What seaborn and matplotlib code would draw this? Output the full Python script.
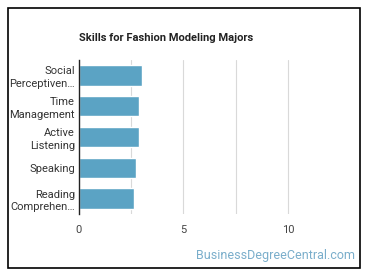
import matplotlib
matplotlib.use("Agg")
import matplotlib.pyplot as plt
import seaborn as sns
import pandas as pd
from matplotlib.patches import Rectangle

skills = ["Social\nPerceptiven…", "Time\nManagement", "Active\nListening", "Speaking", "Reading\nComprehen…"]
values = [3.0, 2.87, 2.87, 2.73, 2.63]
xticks = [0, 5, 10]

df = pd.DataFrame({"skill": skills, "value": values})

sns.set_style("white")
plt.rcParams['font.family'] = ['Roboto', 'DejaVu Sans']

fig = plt.figure(figsize=(3.7, 2.78), dpi=100)
ax = fig.add_axes([79/370, 1-214/278, (340-79)/370, (214-60)/278])

sns.barplot(data=df, x="value", y="skill", color="#5BA3C4", width=0.66, ax=ax, saturation=1)

ax.set_xlim(0, 12.5)
ax.set_xticks(xticks)
ax.set_xticklabels([str(t) for t in xticks])
ax.set_xticks([2.5, 7.5], minor=True)
for gx in [2.5, 5, 7.5, 10]:
    ax.axvline(gx, color="#d9d9d9", lw=0.8, zorder=0)
ax.tick_params(axis="x", which="both", length=0, labelsize=8, colors="#444444", pad=8)
ax.tick_params(axis="y", length=0, labelsize=8, colors="#333333", pad=3)
for lab in ax.get_yticklabels():
    lab.set_horizontalalignment("right")
    lab.set_linespacing(1.35)
ax.set_xlabel("")
ax.set_ylabel("")
for s in ["top", "right", "bottom"]:
    ax.spines[s].set_visible(False)
ax.spines["left"].set_color("#222222")
ax.spines["left"].set_linewidth(1.0)

fig.text(79/370, 1-38/278, "Skills for Fashion Modeling Majors", fontsize=8, fontweight="bold",
         color="#222222", ha="left", va="center")
fig.text(355/370, 1-256/278, "BusinessDegreeCentral.com", fontsize=9, color="#7AAECB",
         ha="right", va="center")

fig.patches.append(Rectangle((8/370, 1-268/278), (360-8)/370, (268-8)/278,
                             transform=fig.transFigure, fill=False, edgecolor="black", lw=1.2))

fig.savefig("out.png", dpi=100)
